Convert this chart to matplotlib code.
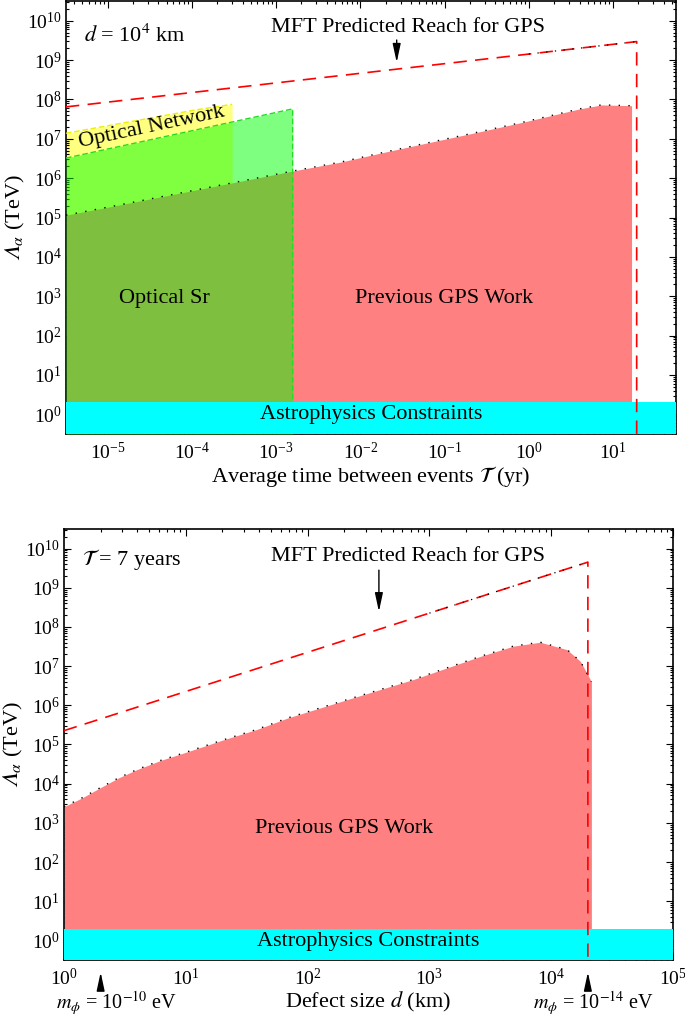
import numpy as np
import matplotlib
matplotlib.use("Agg")
import matplotlib.pyplot as plt
from matplotlib.ticker import LogLocator, NullFormatter

plt.rcParams['font.family'] = 'serif'
plt.rcParams['font.serif'] = ['Liberation Serif', 'DejaVu Serif']
plt.rcParams['mathtext.fontset'] = 'stix'
plt.rcParams['font.size'] = 16

# ---- top panel data (d = 1e4 km) ----
T_lim = (3.2e-6, 56)
gps_T = np.array([3.2e-6, 1.05e-5, 1.57e-3, 5.9e-3, 1.68e-2, 5.5e-2, 0.238, 0.89, 4.02, 7.28, 16.6])
gps_L = 10 ** np.array([5.06, 5.27, 6.18, 6.41, 6.63, 6.87, 7.16, 7.43, 7.76, 7.86, 7.84])
sr_T = np.array([3.2e-6, 1.57e-3])
sr_L = 10 ** np.array([6.51, 7.76])
net_T = np.array([3.2e-6, 1.08e-4, 3.0e-4])
net_L = 10 ** np.array([7.14, 7.73, 7.875])
mft_T = np.array([3.2e-6, 1.0, 19.1, 19.1])
mft_L = np.array([6.46e7, 1.42e9, 2.95e9, 0.3])

# ---- bottom panel data (T = 7 years) ----
d_lim = (1, 1e5)
gps_d = 10 ** np.array([0, 0.15, 0.3, 0.45, 0.6, 0.8, 1.0, 1.31, 1.58, 1.84, 2.32,
                        2.87, 3.42, 3.69, 3.91, 4.13, 4.24, 4.30, 4.33])
gps_Ld = 10 ** np.array([3.41, 3.64, 3.9, 4.15, 4.36, 4.6, 4.8, 5.12, 5.38, 5.68, 6.14,
                         6.66, 7.25, 7.51, 7.61, 7.42, 7.12, 6.78, 6.6])
mft_d = np.array([1, 1e3, 2e4, 2e4])
mft_Ld = np.array([2.25e5, 2.25e8, 4.5e9, 0.3])

astro_limit = 2.0
y_lim = (10 ** -0.5, 10 ** 10.5)

fig = plt.figure(figsize=(6.85, 10.19), dpi=100)
ax1 = fig.add_axes([0.0964, 0.5741, 0.8905, 0.4249])
ax2 = fig.add_axes([0.0934, 0.0579, 0.8891, 0.4230])

red_fill = '#FF8080'
dash = dict(color='red', lw=1.2, dashes=(8, 5))
arrow = dict(arrowstyle='-|>,head_length=0.7,head_width=0.15', color='black', lw=1.0)

def style(ax):
    ax.set_xscale('log')
    ax.set_yscale('log')
    ax.set_ylim(*y_lim)
    ax.xaxis.set_major_locator(LogLocator(base=10, numticks=30))
    ax.yaxis.set_major_locator(LogLocator(base=10, numticks=30))
    ax.xaxis.set_minor_locator(LogLocator(base=10, subs=np.arange(2, 10), numticks=30))
    ax.yaxis.set_minor_locator(LogLocator(base=10, subs=np.arange(2, 10), numticks=30))
    ax.xaxis.set_minor_formatter(NullFormatter())
    ax.yaxis.set_minor_formatter(NullFormatter())
    ax.tick_params(which='both', direction='in', top=True, right=True, width=0.8,
                   labelsize=14)
    ax.tick_params(which='major', length=5)
    ax.tick_params(which='minor', length=2.5)
    ax.tick_params(axis='y', pad=3)
    ax.tick_params(axis='x', pad=6)
    for s in ax.spines.values():
        s.set_linewidth(1.2)
    ax.set_ylabel('$\U0001D6EC_\\alpha$ (TeV)', labelpad=0)
    ax.axhspan(y_lim[0], astro_limit, color='#00FFFF', zorder=4, lw=0)
    ax.text(0.5, 0.044, 'Astrophysics Constraints', transform=ax.transAxes,
            ha='center', va='center', zorder=6)

# ---------------- top panel ----------------
style(ax1)
ax1.set_xlim(*T_lim)
ax1.fill_between(net_T, y_lim[0], net_L, color='#FFFF80', lw=0, zorder=1)
ax1.plot(net_T, net_L, color='#EEEE00', lw=1.0, dashes=(4, 2), zorder=3)
ax1.fill_between(gps_T, y_lim[0], gps_L, color=red_fill, lw=0, zorder=2)
ax1.plot(gps_T, gps_L, color='black', lw=1.0, ls=(0, (1, 6)), zorder=5)
ax1.fill_between(sr_T, y_lim[0], sr_L, color='#00FF00', alpha=0.5, lw=0, zorder=3)
ax1.plot(np.append(sr_T, sr_T[-1]), np.append(sr_L, y_lim[0]), color='#22DD22',
         lw=1.0, dashes=(4, 2), zorder=3)
ax1.plot(mft_T, mft_L, zorder=5, **dash)
ax1.plot(mft_T[1:3], mft_L[1:3], color='black', lw=0.9, ls=(0, (1, 6)), zorder=5)

ax1.text(0.03, 0.919, r'$d$ = 10$^4$ km', transform=ax1.transAxes, ha='left', va='center')
ax1.text(0.56, 0.938, 'MFT Predicted Reach for GPS', transform=ax1.transAxes,
         ha='center', va='center')
ax1.annotate('', xy=(0.027, 10 ** 8.87), xytext=(0.027, 10 ** 9.58), arrowprops=arrow)
ax1.text(0.14, 0.708, 'Optical Network', transform=ax1.transAxes,
         ha='center', va='center', rotation=12, zorder=6)
ax1.text(0.162, 0.314, 'Optical Sr', transform=ax1.transAxes, ha='center', va='center', zorder=6)
ax1.text(0.62, 0.314, 'Previous GPS Work', transform=ax1.transAxes, ha='center', va='center', zorder=6)
ax1.set_xlabel(r'Average time between events $\mathcal{T}$ (yr)', labelpad=0)

# ---------------- bottom panel ----------------
style(ax2)
ax2.set_xlim(*d_lim)
ax2.fill_between(gps_d, y_lim[0], gps_Ld, color=red_fill, lw=0, zorder=2)
ax2.plot(gps_d, gps_Ld, color='black', lw=1.0, ls=(0, (1, 6)), zorder=5)
ax2.plot(mft_d, mft_Ld, zorder=5, **dash)
ax2.plot(mft_d[1:3], mft_Ld[1:3], color='black', lw=0.9, ls=(0, (1, 6)), zorder=5)

ax2.text(0.03, 0.928, r'$\mathcal{T}$ = 7 years', transform=ax2.transAxes, ha='left', va='center')
ax2.text(0.565, 0.937, 'MFT Predicted Reach for GPS', transform=ax2.transAxes,
         ha='center', va='center')
ax2.annotate('', xy=(385, 10 ** 8.32), xytext=(385, 10 ** 9.52), arrowprops=arrow)
ax2.text(0.46, 0.306, 'Previous GPS Work', transform=ax2.transAxes, ha='center', va='center', zorder=6)
ax2.set_xlabel(r'Defect size $d$ (km)', labelpad=0)

tr = ax2.get_xaxis_transform()
for d_m, lab, xt in [(2, r'$m_\phi$ = 10$^{-10}$ eV', 0.087), (2e4, r'$m_\phi$ = 10$^{-14}$ eV', 0.869)]:
    ax2.annotate('', xy=(d_m, -0.022), xytext=(d_m, -0.072), xycoords=tr, textcoords=tr,
                 arrowprops=arrow, annotation_clip=False)
    ax2.text(xt, -0.1, lab, transform=ax2.transAxes, ha='center', va='center', fontsize=14.5)

fig.savefig('out.png', dpi=100)
